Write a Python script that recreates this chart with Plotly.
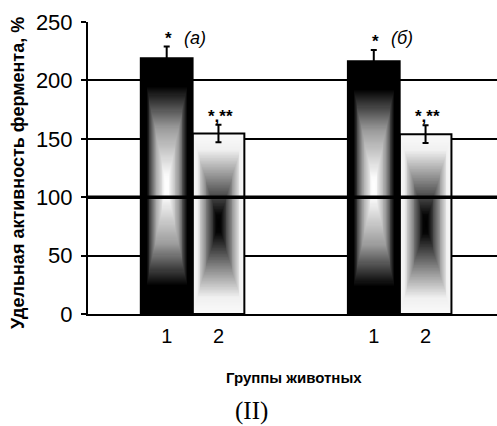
import numpy as np
import plotly.graph_objects as go

# ---- data ----
group_names = ["(а)", "(б)"]
group_labels = ["1", "2"]
values = [[219, 154.5], [216.5, 154]]
errors = [[10, 7.5], [9.5, 7.5]]
signif = [["*", "*,**"], ["*", "*,**"]]
y_ticks = [0, 50, 100, 150, 200, 250]
y_title = "Удельная активность фермента, %"
x_title = "Группы животных"
panel = "(II)"

# ---- styles ----
BAR_W = 1.0
GROUP_STEP = 4
# "from centre" rectangular gradient fills (texture only)
dark_cs = [[0, "#ffffff"], [0.08, "#fbfbfb"], [0.45, "#9c9c9c"], [0.78, "#000000"], [1, "#000000"]]
light_cs = [[0, "#000000"], [0.1, "#050505"], [0.5, "#8a8a8a"], [0.82, "#f0f0f0"], [1, "#fafafa"]]
bar_cs = [dark_cs, light_cs]
NX, NY = 60, 240

fig = go.Figure()
tick_pos, tick_txt = [], []
err_x, err_y, err_v = [], [], []
outline_x, outline_y = [], []
for g, gname in enumerate(group_names):
    for i, lab in enumerate(group_labels):
        pos = g * GROUP_STEP + i
        v = values[g][i]
        l, r = pos - BAR_W / 2, pos + BAR_W / 2
        # texture grid for the gradient fill
        xe = np.linspace(l, r, NX + 1)
        ye = np.linspace(0, v, NY + 1)
        xc = (xe[:-1] + xe[1:]) / 2
        yc = (ye[:-1] + ye[1:]) / 2
        u = np.abs((xc - pos) / (BAR_W / 2))
        w = np.abs((yc - v / 2) / (v / 2))
        tex = np.maximum(u[None, :], w[:, None])
        fig.add_trace(go.Heatmap(x=xe, y=ye, z=tex, zmin=0, zmax=1, colorscale=bar_cs[i],
                                 showscale=False, hoverinfo="skip", zsmooth=False))
        outline_x += [l, l, r, r, l, None]
        outline_y += [0, v, v, 0, 0, None]
        tick_pos.append(pos)
        tick_txt.append(lab)
        err_x.append(pos)
        err_y.append(v)
        err_v.append(errors[g][i])
        fig.add_annotation(x=pos, y=v + errors[g][i], xref="x", yref="y",
                           text=f"<b>{signif[g][i]}</b>",
                           showarrow=False, yanchor="bottom", yshift=-3, xshift=2,
                           font=dict(family="Liberation Sans", size=17, color="black"))
    fig.add_annotation(x=g * GROUP_STEP + 0.55, y=236, xref="x", yref="y", text=f"<i>{gname}</i>",
                       showarrow=False, xanchor="center", yanchor="middle",
                       font=dict(family="Liberation Sans", size=18, color="black"))

fig.add_trace(go.Scatter(x=outline_x, y=outline_y, mode="lines",
                         line=dict(width=2, color="black"), showlegend=False, hoverinfo="skip"))
fig.add_trace(go.Scatter(x=err_x, y=err_y, mode="markers",
                         marker=dict(size=1, color="rgba(0,0,0,0)"),
                         error_y=dict(type="data", array=err_v, symmetric=True,
                                      color="black", thickness=2, width=3),
                         showlegend=False, hoverinfo="skip"))

fig.add_shape(type="line", xref="paper", yref="y", x0=0, x1=1, y0=100, y1=100,
              line=dict(color="black", width=3.5), layer="above")

fig.add_annotation(x=(18 - 88) / 409, y=(314 - 173) / 292, xref="paper", yref="paper",
                   text=f"<b>{y_title}</b>", textangle=-90, showarrow=False,
                   xanchor="center", yanchor="middle",
                   font=dict(family="Liberation Sans", size=18, color="black"))
fig.add_annotation(x=(294 - 88) / 409, y=-(377 - 314) / 292, xref="paper", yref="paper",
                   text=f"<b>{x_title}</b>", showarrow=False, xanchor="center", yanchor="middle",
                   font=dict(family="Liberation Sans", size=15, color="black"))
fig.add_annotation(x=(251 - 88) / 409, y=-(411 - 314) / 292, xref="paper", yref="paper",
                   text=panel, showarrow=False, xanchor="center", yanchor="middle",
                   font=dict(family="Liberation Serif", size=25, color="black"))

fig.update_layout(
    width=497, height=426,
    margin=dict(l=88, r=0, t=22, b=112),
    paper_bgcolor="white", plot_bgcolor="white",
    showlegend=False,
    xaxis=dict(range=[-1.52, 6.38], tickvals=tick_pos, ticktext=tick_txt, ticks="",
               showgrid=False, zeroline=False, showline=True, linecolor="black", linewidth=2,
               ticklabelstandoff=3,
               tickfont=dict(family="Liberation Sans", size=20, color="black")),
    yaxis=dict(range=[0, 250], tickvals=y_ticks, showgrid=True, gridcolor="black", gridwidth=2,
               zeroline=False, showline=True, linecolor="black", linewidth=2,
               ticks="outside", ticklen=5, tickwidth=2, tickcolor="black",
               ticklabelstandoff=4,
               tickfont=dict(family="Liberation Sans", size=22, color="black")),
)

fig.write_html("out.html")
